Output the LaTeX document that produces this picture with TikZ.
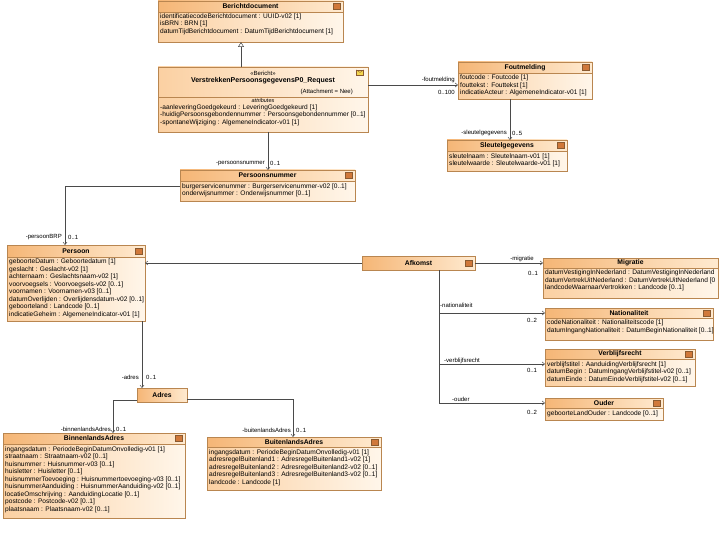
\documentclass[tikz,border=0pt]{standalone}
\usepackage{fontspec}
\setmainfont{Liberation Sans}
\usetikzlibrary{arrows.meta,calc}
\definecolor{hdrL}{HTML}{F5B676}
\definecolor{hdrR}{HTML}{FFEAD0}
\definecolor{bodyL}{HTML}{FBD0A2}
\definecolor{bodyR}{HTML}{FFF6EA}
\definecolor{boxline}{HTML}{B98650}
\definecolor{linec}{HTML}{4A4A4A}
\definecolor{iconF}{HTML}{D0783A}
\definecolor{iconB}{HTML}{8A5A30}
\definecolor{envF}{HTML}{F3D64E}
\tikzset{
  bodybox/.style={draw=boxline, line width=0.5pt, left color=bodyL, right color=bodyR, inner sep=0pt, outer sep=0pt},
  hdrbox/.style={draw=boxline, line width=0.5pt, left color=hdrL, right color=hdrR, inner sep=0pt, outer sep=0pt},
  ttl/.style={font=\fontsize{6.8}{7}\selectfont\bfseries, inner sep=0pt},
  attr/.style={font=\fontsize{6.6}{7.5}\selectfont, align=left, inner sep=0pt, anchor=north west},
  lbl/.style={font=\fontsize{6}{7}\selectfont, inner sep=0pt},
  conn/.style={draw=linec, line width=0.5pt},
  nav/.style={conn, -{Straight Barb[length=2.5pt,width=4pt]}},
  gen/.style={conn, -{Triangle[open,length=5pt,width=6pt]}},
  iconbox/.style={draw=iconB, line width=0.4pt, fill=iconF, minimum width=7pt, minimum height=6pt, inner sep=0pt}
}
% id, x, y, w, h, header height, title
\newcommand{\umlclassbox}[7]{%
  \node[bodybox, minimum width=#4pt, minimum height=#5pt, anchor=north west] (#1) at (#2,#3) {};
  \node[hdrbox, minimum width=#4pt, minimum height=#6pt, anchor=north west] (#1-h) at (#2,#3) {};
  \node[ttl] (#1-t) at (#1-h.center) {#7};
}
\newcommand{\umlicon}[1]{\node[iconbox, anchor=east] (#1-i) at ($(#1-h.east)+(-3,0)$) {};}
\begin{document}
\begin{tikzpicture}[x=1pt,y=-1pt]
\useasboundingbox (0,0) rectangle (720,540);
\fill[white] (0,0) rectangle (720,540);

% Berichtdocument
\umlclassbox{bericht}{158}{1}{185}{41}{11}{Berichtdocument}
\umlicon{bericht}
\node[attr] (bericht-a) at (160,13.5) {identificatiecodeBerichtdocument : UUID-v02 [1]\\isBRN : BRN [1]\\datumTijdBerichtdocument : DatumTijdBerichtdocument [1]};

% VerstrekkenPersoonsgegevensP0_Request
\node[bodybox, minimum width=210pt, minimum height=65pt, anchor=north west] (verstrekken) at (158,67) {};
\node[lbl] (v-st) at (263,73) {«Bericht»};
\node[ttl, font=\fontsize{7}{7}\selectfont\bfseries] (v-t) at (263,80.5) {VerstrekkenPersoonsgegevensP0\_Request};
\node[lbl, anchor=east] (v-tag) at (353,92) {(Attachment = Nee)};
\draw[draw=boxline, line width=0.4pt] (verstrekken.west |- 0,97) -- (verstrekken.east |- 0,97);
\node[lbl, font=\fontsize{5.5}{6}\selectfont\itshape] (v-att) at (263,101) {attributes};
\node[attr] (v-a) at (160,104.5) {-aanleveringGoedgekeurd : LeveringGoedgekeurd [1]\\-huidigPersoonsgebondennummer : Persoonsgebondennummer [0..1]\\-spontaneWijziging : AlgemeneIndicator-v01 [1]};
\node[draw=iconB, line width=0.3pt, fill=envF, minimum width=7pt, minimum height=5pt, inner sep=0pt] (v-env) at (360,72.5) {};
\draw[iconB, line width=0.3pt] (v-env.north west) -- (v-env.center) -- (v-env.north east);

% Foutmelding
\umlclassbox{foutmelding}{458}{62}{134}{37}{11}{Foutmelding}
\umlicon{foutmelding}
\node[attr] (f-a) at (460,75) {foutcode : Foutcode [1]\\fouttekst : Fouttekst [1]\\indicatieActeur : AlgemeneIndicator-v01 [1]};

% Sleutelgegevens
\umlclassbox{sleutel}{447}{140}{120}{31}{11}{Sleutelgegevens}
\umlicon{sleutel}
\node[attr] (s-a) at (449,153.5) {sleutelnaam : Sleutelnaam-v01 [1]\\sleutelwaarde : Sleutelwaarde-v01 [1]};

% Persoonsnummer
\umlclassbox{persoonsnummer}{180}{170}{175}{31}{11}{Persoonsnummer}
\umlicon{persoonsnummer}
\node[attr] (pn-a) at (182,183.5) {burgerservicenummer : Burgerservicenummer-v02 [0..1]\\onderwijsnummer : Onderwijsnummer [0..1]};

% Persoon
\umlclassbox{persoon}{7}{245}{138}{76}{12}{Persoon}
\umlicon{persoon}
\node[attr] (p-a) at (9,259) {geboorteDatum : Geboortedatum [1]\\geslacht : Geslacht-v02 [1]\\achternaam : Geslachtsnaam-v02 [1]\\voorvoegsels : Voorvoegsels-v02 [0..1]\\voornamen : Voornamen-v03 [0..1]\\datumOverlijden : Overlijdensdatum-v02 [0..1]\\geboorteland : Landcode [0..1]\\indicatieGeheim : AlgemeneIndicator-v01 [1]};

% Afkomst
\umlclassbox{afkomst}{362}{256}{113}{14}{14}{Afkomst}
\umlicon{afkomst}

% Migratie
\umlclassbox{migratie}{543}{258}{175}{40}{10}{Migratie}
\node[attr] (m-a) at (545,270) {datumVestigingInNederland : DatumVestigingInNederland\\datumVertrekUitNederland : DatumVertrekUitNederland [0\\landcodeWaarnaarVertrokken : Landcode [0..1]};

% Nationaliteit
\umlclassbox{nationaliteit}{545}{308}{168}{32}{10}{Nationaliteit}
\umlicon{nationaliteit}
\node[attr] (n-a) at (547,320) {codeNationaliteit : Nationaliteitscode [1]\\datumIngangNationaliteit : DatumBeginNationaliteit [0..1]};

% Verblijfsrecht
\umlclassbox{verblijfsrecht}{545}{349}{150}{37}{10}{Verblijfsrecht}
\umlicon{verblijfsrecht}
\node[attr] (vb-a) at (547,361.5) {verblijfstitel : AanduidingVerblijfsrecht [1]\\datumBegin : DatumIngangVerblijfstitel-v02 [0..1]\\datumEinde : DatumEindeVerblijfstitel-v02 [0..1]};

% Ouder
\umlclassbox{ouder}{545}{398}{118}{22}{10}{Ouder}
\umlicon{ouder}
\node[attr] (o-a) at (547,410.5) {geboorteLandOuder : Landcode [0..1]};

% Adres
\umlclassbox{adres}{137}{388}{50}{14}{14}{Adres}

% BinnenlandsAdres
\umlclassbox{binnenlands}{3}{433}{182}{85}{11}{BinnenlandsAdres}
\umlicon{binnenlands}
\node[attr] (ba-a) at (5,446.5) {ingangsdatum : PeriodeBeginDatumOnvolledig-v01 [1]\\straatnaam : Straatnaam-v02 [0..1]\\huisnummer : Huisnummer-v03 [0..1]\\huisletter : Huisletter [0..1]\\huisnummerToevoeging : Huisnummertoevoeging-v03 [0..1]\\huisnummerAanduiding : HuisnummerAanduiding-v02 [0..1]\\locatieOmschrijving : AanduidingLocatie [0..1]\\postcode : Postcode-v02 [0..1]\\plaatsnaam : Plaatsnaam-v02 [0..1]};

% BuitenlandsAdres
\umlclassbox{buitenlands}{207}{437}{174}{53}{10}{BuitenlandsAdres}
\umlicon{buitenlands}
\node[attr] (bu-a) at (209,449.5) {ingangsdatum : PeriodeBeginDatumOnvolledig-v01 [1]\\adresregelBuitenland1 : AdresregelBuitenland1-v02 [1]\\adresregelBuitenland2 : AdresregelBuitenland2-v02 [0..1]\\adresregelBuitenland3 : AdresregelBuitenland3-v02 [0..1]\\landcode : Landcode [1]};

% ---- connectors ----
\draw[gen] (verstrekken.north -| 241,0) -- (bericht.south -| 241,0);
\draw[nav] (verstrekken.east |- 0,85) -- (foutmelding.west |- 0,85);
\node[lbl, anchor=east] (l-fm) at (455,79.5) {-foutmelding};
\node[lbl, anchor=east] (l-fm2) at (455,92) {0..100};

\draw[nav] (foutmelding.south -| 510,0) -- (sleutel.north -| 510,0);
\node[lbl, anchor=east] (l-sg) at (507,133) {-sleutelgegevens};
\node[lbl, anchor=west] (l-sg2) at (512,133) {0..5};

\draw[nav] (verstrekken.south -| 268,0) -- (persoonsnummer.north -| 268,0);
\node[lbl, anchor=east] (l-pn) at (265,163.5) {-persoonsnummer};
\node[lbl, anchor=west] (l-pn2) at (270,163.5) {0..1};

\coordinate (bend1) at (65,186);
\draw[nav] (persoonsnummer.west |- bend1) -- (bend1) -- (persoon.north -| bend1);
\node[lbl, anchor=east] (l-brp) at (62,237.5) {-persoonBRP};
\node[lbl, anchor=west] (l-brp2) at (68,237.5) {0..1};

\draw[nav] (afkomst.west |- 0,263) -- (persoon.east |- 0,263);
\draw[nav] (afkomst.east |- 0,263) -- (migratie.west |- 0,263);
\node[lbl] (l-mig) at (522,258.5) {-migratie};
\node[lbl] (l-mig2) at (533,273) {0..1};

\coordinate (trunk) at (439,403);
\draw[conn] (afkomst.south -| trunk) -- (trunk);
\draw[nav] (trunk |- 0,313) -- (nationaliteit.west |- 0,313);
\node[lbl, anchor=west] (l-nat) at (440,305.5) {-nationaliteit};
\node[lbl] (l-nat2) at (532,320) {0..2};
\draw[nav] (trunk |- 0,364) -- (verblijfsrecht.west |- 0,364);
\node[lbl, anchor=west] (l-vb) at (444,360.5) {-verblijfsrecht};
\node[lbl] (l-vb2) at (532,370) {0..1};
\draw[nav] (trunk) -- (ouder.west |- trunk);
\node[lbl, anchor=west] (l-ou) at (452,399.5) {-ouder};
\node[lbl] (l-ou2) at (532,412) {0..2};

\draw[nav] (persoon.south -| 142,0) -- (adres.north -| 142,0);
\node[lbl, anchor=east] (l-ad) at (139,377) {-adres};
\node[lbl, anchor=west] (l-ad2) at (146,377) {0..1};

\draw[nav] (adres.west |- 0,400) -| (binnenlands.north -| 113,0);
\node[lbl, anchor=east] (l-bi) at (111,429) {-binnenlandsAdres};
\node[lbl, anchor=west] (l-bi2) at (116,429) {0..1};

\draw[nav] (adres.east |- 0,399) -| (buitenlands.north -| 293,0);
\node[lbl, anchor=east] (l-bu) at (291,430) {-buitenlandsAdres};
\node[lbl, anchor=west] (l-bu2) at (296,430) {0..1};
\end{tikzpicture}
\end{document}
